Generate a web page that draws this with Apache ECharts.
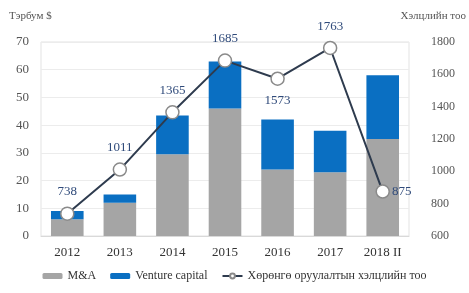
<!DOCTYPE html>
<html>
<head>
<meta charset="utf-8">
<script src="https://cdn.jsdelivr.net/npm/echarts@6/dist/echarts.min.js"></script>
<style>
  html, body { margin: 0; padding: 0; background: #fff; }
  #main { width: 469px; height: 293px; }
</style>
</head>
<body>
<div id="main"></div>
<script>
var years = ['2012', '2013', '2014', '2015', '2016', '2017', '2018 II'];
var mna = [6, 12, 29.5, 46, 24, 23, 35];
var venture = [3, 3, 14, 17, 18, 15, 23];
var deals = [738, 1011, 1365, 1685, 1573, 1763, 875];
var labelPos = ['top', 'top', 'top', 'top', 'bottom', 'top', 'right'];

var font = '"Liberation Serif", "Times New Roman", serif';
var myChart = echarts.init(document.getElementById('main'));

var option = {
    backgroundColor: '#fff',
    textStyle: { fontFamily: font },
    animation: false,
    grid: { left: 41, right: 60, top: 42, bottom: 57, show: true, borderColor: '#e3e3e3', borderWidth: 1 },
    legend: {
        bottom: 6,
        left: 'center',
        itemWidth: 20,
        itemHeight: 6,
        itemGap: 14,
        textStyle: { fontFamily: font, fontSize: 12, color: '#333' },
        data: ['M&A', 'Venture capital', 'Хөрөнгө оруулалтын хэлцлийн тоо']
    },
    xAxis: {
        type: 'category',
        data: years,
        axisTick: { show: false },
        axisLine: { lineStyle: { color: '#d9d9d9' } },
        axisLabel: { color: '#333', fontSize: 13, fontFamily: font, margin: 10 }
    },
    yAxis: [{
        type: 'value',
        min: 0, max: 70, interval: 10,
        name: 'Тэрбум $',
        nameLocation: 'end',
        nameGap: 20,
        nameTextStyle: { color: '#555', fontSize: 11, fontFamily: font, align: 'left', padding: [0, 0, 0, -32] },
        axisLine: { show: false },
        axisTick: { show: false },
        axisLabel: { color: '#555', fontSize: 13, fontFamily: font, margin: 12 },
        splitLine: { lineStyle: { color: '#ececec' } }
    }, {
        type: 'value',
        min: 600, max: 1800, interval: 200,
        name: 'Хэлцлийн тоо',
        nameLocation: 'end',
        nameGap: 20,
        nameTextStyle: { color: '#555', fontSize: 11, fontFamily: font, align: 'right', padding: [0, -57, 0, 0] },
        axisLine: { show: false },
        axisTick: { show: false },
        axisLabel: { color: '#555', fontSize: 12, fontFamily: font, margin: 22, formatter: function (v) { return String(v); } },
        splitLine: { show: false }
    }],
    series: [{
        name: 'M&A',
        type: 'bar',
        stack: 'total',
        barWidth: '62%',
        itemStyle: { color: '#a5a5a5' },
        data: mna
    }, {
        name: 'Venture capital',
        type: 'bar',
        stack: 'total',
        itemStyle: { color: '#0a6fc2' },
        data: venture
    }, {
        name: 'Хөрөнгө оруулалтын хэлцлийн тоо',
        type: 'line',
        yAxisIndex: 1,
        symbol: 'circle',
        symbolSize: 13,
        lineStyle: { color: '#2e3b4e', width: 2 },
        itemStyle: { color: '#fff', borderColor: '#8a8a8a', borderWidth: 1.5 },
        data: deals.map(function (v, i) {
            return {
                value: v,
                label: {
                    show: true,
                    position: labelPos[i],
                    distance: labelPos[i] === 'right' ? 2 : 8,
                    color: '#2f4a7a',
                    fontSize: 13,
                    fontFamily: font
                }
            };
        })
    }]
};
myChart.setOption(option);
window.addEventListener("resize", function () {
    myChart.resize();
});
</script>
</body>
</html>
